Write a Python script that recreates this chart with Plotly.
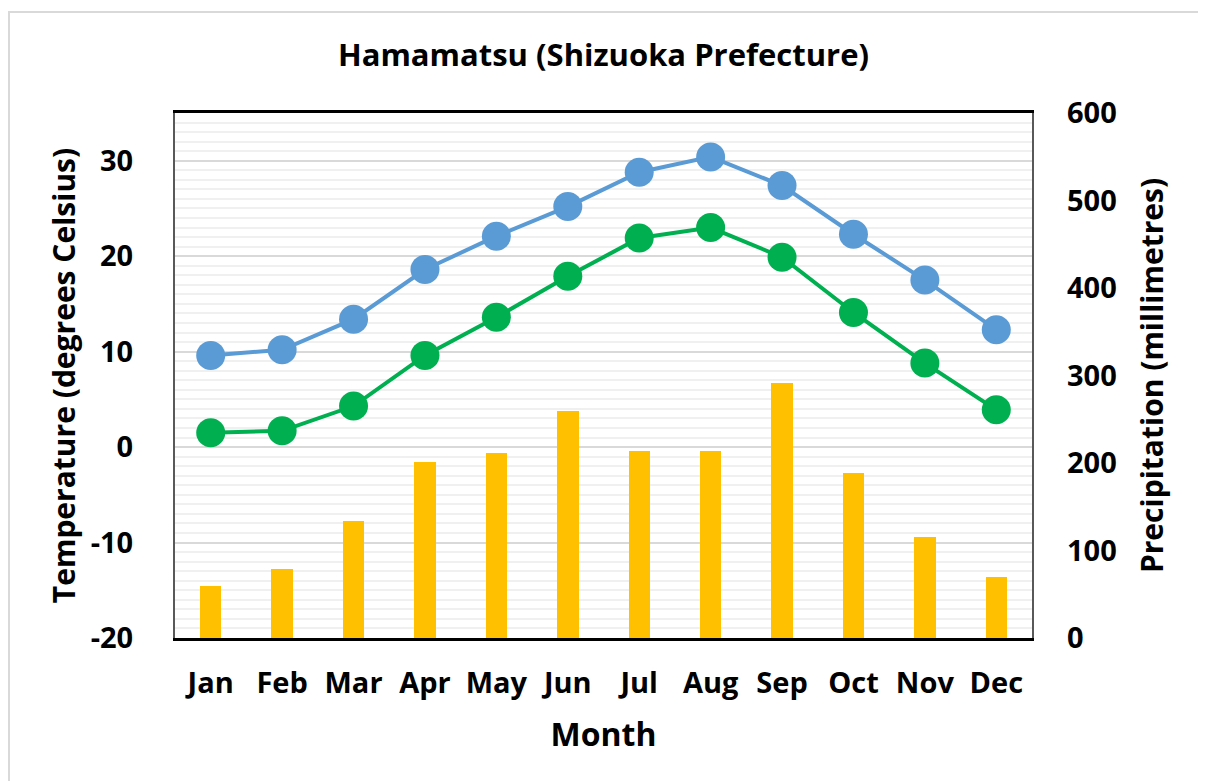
import plotly.graph_objects as go

months = ["Jan", "Feb", "Mar", "Apr", "May", "Jun",
          "Jul", "Aug", "Sep", "Oct", "Nov", "Dec"]
temp_high = [9.6, 10.2, 13.4, 18.6, 22.1, 25.2, 28.8, 30.4, 27.4, 22.3, 17.5, 12.3]
temp_low = [1.5, 1.7, 4.3, 9.6, 13.6, 17.9, 21.9, 23.0, 19.9, 14.1, 8.8, 3.9]
precip = [59, 79, 134, 201, 212, 260, 214, 214, 291, 189, 115, 70]

temp_ticks = [-20, -10, 0, 10, 20, 30]
precip_ticks = [0, 100, 200, 300, 400, 500, 600]

W, H = 1206, 781
OFF = 8  # page body margin
L, R, T, B = 175 - OFF, 1032 - OFF, 113 - OFF, 638 - OFF  # plot area in figure pixels
FONT = "Open Sans"

x_idx = list(range(len(months)))

fig = go.Figure()

# precipitation bars on the right axis
fig.add_trace(go.Bar(
    x=x_idx, y=precip, yaxis="y2",
    marker=dict(color="#FFC000", line=dict(width=0)),
    width=0.3, name="Precipitation", hoverinfo="x+y",
))

# 0 degree gridline shows above the bars in the original
fig.add_trace(go.Scatter(
    x=[-0.5, len(months) - 0.5], y=[0, 0], mode="lines",
    line=dict(color="#D9D9D9", width=1.5),
    hoverinfo="skip", showlegend=False,
))

fig.add_trace(go.Scatter(
    x=x_idx, y=temp_high, mode="lines+markers",
    line=dict(color="#5B9BD5", width=4),
    marker=dict(color="#5B9BD5", size=29),
    name="Mean high",
))
fig.add_trace(go.Scatter(
    x=x_idx, y=temp_low, mode="lines+markers",
    line=dict(color="#00B050", width=4),
    marker=dict(color="#00B050", size=29),
    name="Mean low",
))

tick_font = dict(family=FONT, size=29, color="#000000")
xtitle_font = dict(family=FONT, size=32, color="#000000")
ytitle_font = dict(family=FONT, size=30, color="#000000")

pw = R - L
ph = B - T

fig.update_layout(
    width=W, height=H,
    margin=dict(l=L, r=W - R, t=T, b=H - B),
    paper_bgcolor="white", plot_bgcolor="white",
    showlegend=False,
    bargap=0,
    title=dict(
        text="<b>Hamamatsu (Shizuoka Prefecture)</b>",
        font=dict(family=FONT, size=31, color="#000000"),
        x=0.5, xref="paper", xanchor="center",
        y=1 - (55 - OFF) / H, yanchor="middle",
    ),
    xaxis=dict(
        range=[-0.5, len(months) - 0.5],
        tickvals=x_idx, ticktext=[f"<b>{m}</b>" for m in months],
        tickfont=tick_font, ticks="", ticklabelstandoff=17,
        showgrid=False, zeroline=False,
        showline=True, linecolor="#000000", linewidth=3, mirror=True,
        title=dict(text="<b>Month</b>", font=xtitle_font, standoff=24),
    ),
    yaxis=dict(
        range=[-20, 35], tickvals=temp_ticks,
        ticktext=[f"<b>{v}</b>" for v in temp_ticks],
        tickfont=tick_font, ticks="", ticklabelstandoff=34,
        showgrid=True, gridcolor="#D9D9D9", gridwidth=1.5,
        minor=dict(dtick=1, tick0=0, showgrid=True, gridcolor="#F0F0F0", gridwidth=1.5),
        zeroline=False,
        showline=True, linecolor="#595959", linewidth=2, mirror=True,
        title=dict(text="<b>Temperature (degrees Celsius)</b>", font=ytitle_font, standoff=6),
    ),
    yaxis2=dict(
        range=[0, 600], tickvals=precip_ticks,
        ticktext=[f"<b>{v}</b>" for v in precip_ticks],
        tickfont=tick_font, ticks="", ticklabelstandoff=34,
        overlaying="y", side="right",
        showgrid=False, zeroline=False, showline=False,
        title=dict(text="<b>Precipitation (millimetres)</b>", font=ytitle_font, standoff=26),
    ),
    shapes=[dict(
        type="rect", xref="paper", yref="paper", layer="below",
        x0=(1 - L) / pw, x1=(W + 10 - L) / pw,
        y0=(B - (H + 10)) / ph, y1=(B - (12 - OFF)) / ph,
        line=dict(color="#D9D9D9", width=2), fillcolor="rgba(0,0,0,0)",
    )],
)

fig.write_html("out.html")
